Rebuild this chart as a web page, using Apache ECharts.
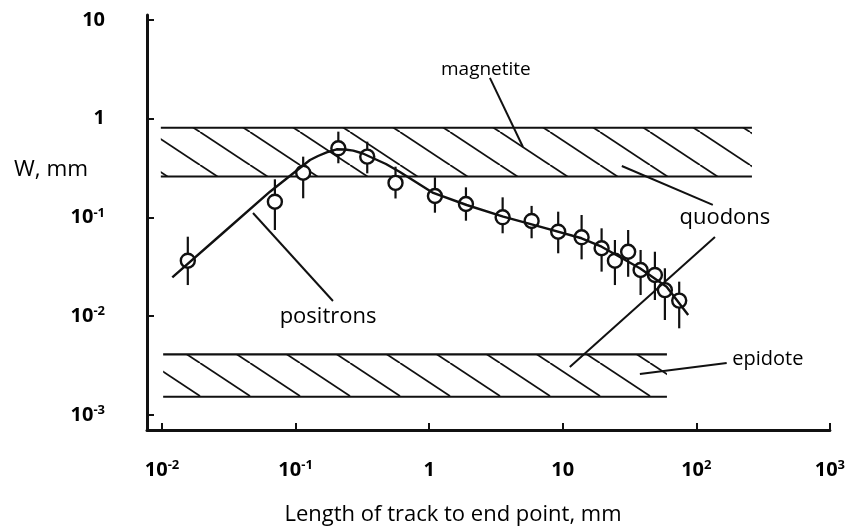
<!DOCTYPE html>
<html><head><meta charset="utf-8">
<script src="https://cdn.jsdelivr.net/npm/echarts@6/dist/echarts.min.js"></script>
<style>html,body{margin:0;padding:0;background:#fff}#c{width:848px;height:527px}</style>
</head><body><div id="c"></div>
<script>
// ---- tick labels ----
const xTickValues = [0.01, 0.1, 1, 10, 100, 1000];
const xTickLabels = ['10^-2', '10^-1', '1', '10', '10^2', '10^3'];
const yTickValues = [0.001, 0.01, 0.1, 1, 10];
const yTickLabels = ['10^-3', '10^-2', '10^-1', '1', '10'];

// ---- measured points (track length, mm ; W, mm) ----
const trackLength = [0.0156, 0.070, 0.114, 0.209, 0.344, 0.560, 1.105, 1.886, 3.55, 5.85, 9.25, 13.85, 19.55, 24.6, 30.9, 38.3, 49.0, 58.2, 74.5];
const width =       [0.0365, 0.1445, 0.284, 0.502, 0.413, 0.224, 0.165, 0.137, 0.1005, 0.0922, 0.0718, 0.0630, 0.0488, 0.0365, 0.0450, 0.0294, 0.0262, 0.0184, 0.0144];
const widthLow =    [0.0207, 0.0747, 0.1565, 0.354, 0.280, 0.1558, 0.1118, 0.0928, 0.0692, 0.0616, 0.0434, 0.0377, 0.0283, 0.0207, 0.0251, 0.0164, 0.0146, 0.00916, 0.00755];
const widthHigh =   [0.0639, 0.2436, 0.413, 0.740, 0.586, 0.327, 0.255, 0.202, 0.160, 0.131, 0.1145, 0.1060, 0.0777, 0.0592, 0.0747, 0.0469, 0.0450, 0.0306, 0.0224];

// ---- positron curve ----
const fitX = [0.01194, 0.0272, 0.0643, 0.0961, 0.1282, 0.1472, 0.1709, 0.2030, 0.2343, 0.2703, 0.3194, 0.3816, 0.4750, 0.6044, 1.073, 1.909, 3.586, 6.75, 13.85, 19.55, 37.83, 59.95, 87.0];
const fitY = [0.0248, 0.0657, 0.1825, 0.2803, 0.3822, 0.4195, 0.4573, 0.4905, 0.4883, 0.4748, 0.4446, 0.3977, 0.3481, 0.2889, 0.1771, 0.1338, 0.1019, 0.0807, 0.0616, 0.0506, 0.0306, 0.0199, 0.0103];

// ---- bands ----
const magnetiteX = [0.0098, 261];
const magnetiteY = [0.26, 0.81];
const epidoteX = [0.0102, 60.3];
const epidoteY = [0.00153, 0.00412];

// ---- annotations ----
const labelNames = ['magnetite', 'positrons', 'quodons', 'epidote'];
const labelPos = [[2.66, 3.12], [0.175, 0.0098], [163.7, 0.0988], [343.6, 0.00369]];
const labelSizes = [19, 22, 22, 20];
const leaderLines = [
  [[2.85, 2.59], [5.04, 0.518]],
  [[0.048, 0.111], [0.1905, 0.01426]],
  [[27.7, 0.332], [133, 0.134]],
  [[138, 0.0635], [11.3, 0.00306]],
  [[37.8, 0.0026], [169, 0.00336]]
];

const FONT = 'Open Sans';
function supLabel(txt) {
  const p = txt.split('^');
  return p.length > 1 ? '{n|' + p[0] + '}{s|' + p[1] + '}' : '{n|' + p[0] + '}';
}
function makeFormatter(vals, labels) {
  return function (v) {
    const e = Math.round(Math.log10(v));
    for (let i = 0; i < vals.length; i++) {
      if (Math.round(Math.log10(vals[i])) === e) return supLabel(labels[i]);
    }
    return '';
  };
}
const rich = {
  n: { fontFamily: FONT, fontWeight: 'bold', fontSize: 20, color: '#000', lineHeight: 22 },
  s: { fontFamily: FONT, fontWeight: 'bold', fontSize: 13, color: '#000', verticalAlign: 'top', lineHeight: 14 }
};

function hatchPattern() {
  const W = 50, H = 33;
  const c = document.createElement('canvas');
  c.width = W; c.height = H;
  const ctx = c.getContext('2d');
  ctx.strokeStyle = '#111';
  ctx.lineWidth = 1.8;
  for (const k of [-1, 0, 1]) {
    ctx.beginPath();
    ctx.moveTo(k * W, 0);
    ctx.lineTo(k * W + W, H);
    ctx.stroke();
  }
  return c;
}
const pattern = { image: hatchPattern(), repeat: 'repeat' };

function bandSeries(xs, ys) {
  return {
    type: 'line', symbol: 'none', silent: true, z: 1,
    data: [[xs[0], ys[1]], [xs[1], ys[1]], '-', [xs[0], ys[0]], [xs[1], ys[0]]],
    connectNulls: false,
    lineStyle: { color: '#111', width: 2.2 },
    markArea: {
      silent: true,
      itemStyle: { color: pattern, borderWidth: 0 },
      label: { show: false },
      data: [[{ coord: [xs[0], ys[0]] }, { coord: [xs[1], ys[1]] }]]
    }
  };
}

const chart = echarts.init(document.getElementById('c'));
const series = [
  bandSeries(magnetiteX, magnetiteY),
  bandSeries(epidoteX, epidoteY),
  {
    type: 'custom', z: 3, silent: true,
    data: trackLength.map((x, i) => [x, width[i], widthLow[i], widthHigh[i]]),
    encode: { x: 0, y: 1 },
    renderItem: function (params, api) {
      const c = api.coord([api.value(0), api.value(1)]);
      const lo = api.coord([api.value(0), api.value(2)]);
      const hi = api.coord([api.value(0), api.value(3)]);
      return {
        type: 'group', children: [
          { type: 'line', shape: { x1: hi[0], y1: hi[1], x2: c[0], y2: c[1] }, style: { stroke: '#111', lineWidth: 2.2 } },
          { type: 'line', shape: { x1: c[0], y1: c[1], x2: lo[0], y2: lo[1] }, style: { stroke: '#111', lineWidth: 2.2 } }
        ]
      };
    }
  },
  {
    type: 'scatter', z: 4, silent: true,
    data: trackLength.map((x, i) => [x, width[i]]),
    symbol: 'circle', symbolSize: 14,
    itemStyle: { color: '#fff', borderColor: '#111', borderWidth: 2.4, opacity: 1 }
  },
  {
    type: 'line', z: 5, silent: true, symbol: 'none',
    data: fitX.map((x, i) => [x, fitY[i]]),
    smooth: false,
    lineStyle: { color: '#111', width: 2.4, join: 'round' }
  }
];
leaderLines.forEach(seg => series.push({
  type: 'line', z: 6, silent: true, symbol: 'none', data: seg,
  lineStyle: { color: '#111', width: 2 }
}));
series.push({
  type: 'custom', z: 7, silent: true, clip: false,
  data: labelPos.map((p, i) => [p[0], p[1], i]),
  encode: { x: 0, y: 1 },
  renderItem: function (params, api) {
    const i = api.value(2);
    const pt = api.coord([api.value(0), api.value(1)]);
    return {
      type: 'text', x: pt[0], y: pt[1],
      style: { text: labelNames[i], fontFamily: FONT, fontSize: labelSizes[i], fill: '#000', align: 'center', verticalAlign: 'middle' }
    };
  }
});

chart.setOption({
  animation: false,
  backgroundColor: '#fff',
  grid: { left: 147, right: 18, top: 15, bottom: 97, containLabel: false },
  xAxis: {
    type: 'log', logBase: 10, min: 0.00772, max: 1000,
    axisLine: { show: true, onZero: false, lineStyle: { color: '#111', width: 3 } },
    axisTick: { show: true, inside: true, length: 7, lineStyle: { color: '#111', width: 2 }, customValues: xTickValues },
    axisLabel: { show: true, margin: 29, customValues: xTickValues, formatter: makeFormatter(xTickValues, xTickLabels), rich: rich },
    splitLine: { show: false }, minorTick: { show: false }
  },
  yAxis: {
    type: 'log', logBase: 10, min: 0.000705, max: 11.23,
    axisLine: { show: true, onZero: false, lineStyle: { color: '#111', width: 3 } },
    axisTick: { show: true, inside: true, length: 7, lineStyle: { color: '#111', width: 2 }, customValues: yTickValues },
    axisLabel: { show: true, margin: 42, customValues: yTickValues, formatter: makeFormatter(yTickValues, yTickLabels), rich: rich },
    splitLine: { show: false }, minorTick: { show: false }
  },
  graphic: [
    { type: 'text', x: 453, y: 515, style: { text: 'Length of track to end point, mm', fontFamily: FONT, fontSize: 22, fill: '#000', align: 'center', verticalAlign: 'middle' } },
    { type: 'text', x: 14, y: 170, style: { text: 'W, mm', fontFamily: FONT, fontSize: 22.5, fill: '#000', align: 'left', verticalAlign: 'middle' } }
  ],
  series: series
});
</script></body></html>
